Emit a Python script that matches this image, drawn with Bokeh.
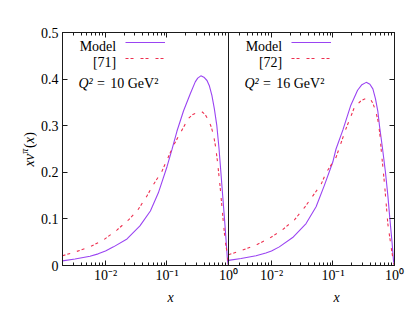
import math
from bokeh.plotting import figure
from bokeh.layouts import row, column
from bokeh.models import (Range1d, LogScale, LogAxis, LinearAxis, FixedTicker,
                          Label, Legend, LegendItem, Span, CustomJSTickFormatter)
from bokeh.core.properties import value
from bokeh.embed import file_html
from bokeh.resources import INLINE

# ---------------- data ----------------
X_MIN, X_MAX = 0.002, 1.0
Y_MIN, Y_MAX = 0.0, 0.5
y_ticks = [0.0, 0.1, 0.2, 0.3, 0.4, 0.5]
y_tick_labels = ["0", "0.1", "0.2", "0.3", "0.4", "0.5"]
x_major = [0.01, 0.1, 1.0]
x_tick_labels = ["10⁻²", "10⁻¹", "10⁰"]
x_title = "x"

# Q^2 = 10 GeV^2 panel
model10_x = [0.0020, 0.0032, 0.0056, 0.0076, 0.0100, 0.0135, 0.0224, 0.0363, 0.0537,
             0.0724, 0.100, 0.120, 0.145, 0.186, 0.240, 0.288, 0.316, 0.355, 0.398,
             0.447, 0.490, 0.537, 0.589, 0.646, 0.700, 0.752, 0.804, 0.861, 0.912,
             0.964, 1.0]
model10_y = [0.010, 0.014, 0.020, 0.025, 0.031, 0.040, 0.057, 0.085, 0.117,
             0.156, 0.212, 0.248, 0.288, 0.332, 0.369, 0.394, 0.402, 0.407, 0.404,
             0.397, 0.385, 0.365, 0.336, 0.300, 0.252, 0.200, 0.150, 0.100, 0.055,
             0.010, 0.0]
ref71_x = [0.0020, 0.0032, 0.0056, 0.0093, 0.0153, 0.0237, 0.0331, 0.0471, 0.0603,
           0.0826, 0.106, 0.128, 0.164, 0.224, 0.263, 0.306, 0.369, 0.417, 0.473,
           0.525, 0.570, 0.617, 0.662, 0.733, 0.811, 0.883, 0.964, 1.0]
ref71_y = [0.021, 0.029, 0.040, 0.055, 0.076, 0.098, 0.118, 0.149, 0.174,
           0.202, 0.234, 0.258, 0.284, 0.316, 0.324, 0.328, 0.330, 0.324, 0.312,
           0.297, 0.280, 0.255, 0.223, 0.167, 0.103, 0.053, 0.021, 0.0]

# Q^2 = 16 GeV^2 panel
model16_x = [0.0020, 0.0032, 0.0056, 0.0081, 0.0100, 0.0134, 0.0221, 0.0365, 0.0531,
             0.0724, 0.0993, 0.112, 0.145, 0.195, 0.251, 0.295, 0.347, 0.398, 0.445,
             0.490, 0.537, 0.570, 0.640, 0.713, 0.780, 0.841, 0.912, 0.964, 1.0]
model16_y = [0.011, 0.015, 0.021, 0.027, 0.031, 0.040, 0.060, 0.090, 0.126,
             0.172, 0.222, 0.250, 0.291, 0.344, 0.376, 0.388, 0.393, 0.389, 0.379,
             0.358, 0.330, 0.300, 0.250, 0.200, 0.150, 0.100, 0.050, 0.010, 0.0]
ref72_x = [0.0020, 0.0032, 0.0056, 0.0092, 0.0152, 0.0236, 0.0343, 0.0498, 0.0640,
           0.0773, 0.112, 0.163, 0.224, 0.288, 0.369, 0.407, 0.445, 0.490, 0.537,
           0.575, 0.608, 0.689, 0.780, 0.883, 0.964, 1.0]
ref72_y = [0.023, 0.032, 0.044, 0.058, 0.077, 0.098, 0.124, 0.154, 0.174,
           0.199, 0.232, 0.294, 0.340, 0.354, 0.360, 0.357, 0.348, 0.333, 0.312,
           0.285, 0.248, 0.174, 0.089, 0.039, 0.007, 0.0]

panels = [
    dict(model_x=model10_x, model_y=model10_y, ref_x=ref71_x, ref_y=ref71_y,
         model_label="Model", ref_label="[71]", q2="10"),
    dict(model_x=model16_x, model_y=model16_y, ref_x=ref72_x, ref_y=ref72_y,
         model_label="Model", ref_label="[72]", q2="16"),
]

# ---------------- styling ----------------
FONT = "Liberation Serif, Times New Roman, serif"
TICK_FS = "14px"
FS = "14px"
MODEL_COLOR = "#9a44f2"
REF_COLOR = "#ee3050"
AX_COLOR = "#1a1a1a"
FRAME_W, FRAME_H = 332, 233
PANEL_W = FRAME_W / 2
YLAB_W = 37          # strip holding the y title
BORDER_L, BORDER_R, BORDER_T, BORDER_B = 25, 12, 32, 22
XLAB_H = 20          # strip holding the x titles
MAIN_W = BORDER_L + FRAME_W + BORDER_R
MAIN_H = BORDER_T + FRAME_H + BORDER_B

span = X_MAX / X_MIN  # one panel spans this factor in x

p = figure(x_axis_type="log",
           x_range=Range1d(X_MIN, X_MAX * span),
           y_range=Range1d(Y_MIN, Y_MAX),
           frame_width=FRAME_W, frame_height=FRAME_H,
           min_border_left=BORDER_L, min_border_right=BORDER_R,
           min_border_top=BORDER_T, min_border_bottom=BORDER_B,
           output_backend="svg", toolbar_location=None,
           background_fill_color="white", border_fill_color="white")
p.extra_x_ranges = {"right": Range1d(X_MIN / span, X_MAX)}
p.extra_x_scales = {"right": LogScale()}
p.xgrid.visible = False
p.ygrid.visible = False
p.outline_line_color = AX_COLOR
p.outline_line_width = 1

factors = [1.0, span]
major = [t * f for f in factors for t in x_major]
major_labels = [lab for f in factors for lab in x_tick_labels]
minor = [k * 10.0 ** e * f for f in factors for e in (-3, -2, -1)
         for k in range(2, 10) if k * 10.0 ** e >= X_MIN]


def style_axis(ax, standoff=2):
    ax.major_tick_in = 5
    ax.major_tick_out = 0
    ax.minor_tick_in = 3
    ax.minor_tick_out = 0
    ax.axis_line_color = AX_COLOR
    ax.major_tick_line_color = AX_COLOR
    ax.minor_tick_line_color = AX_COLOR
    ax.major_label_text_font = FONT
    ax.major_label_text_color = "black"
    ax.major_label_standoff = standoff
    ax.major_label_text_font_size = TICK_FS


blank = CustomJSTickFormatter(code="return '';")
xfmt = CustomJSTickFormatter(args=dict(majors=major, labels=major_labels), code="""
const i = majors.findIndex((m) => Math.abs(m - tick) <= 1e-9 * m);
return i >= 0 ? labels[i] : '';
""")

xb = p.xaxis[0]
xb.ticker = FixedTicker(ticks=major, minor_ticks=minor)
xb.formatter = xfmt
style_axis(xb, 2)

xt = LogAxis(ticker=FixedTicker(ticks=major, minor_ticks=minor), formatter=blank)
style_axis(xt, 0)
p.add_layout(xt, "above")

yl = p.yaxis[0]
yl.ticker = FixedTicker(ticks=y_ticks, minor_ticks=[])
yl.major_label_overrides = {f"{t:g}": lab for t, lab in zip(y_ticks, y_tick_labels)}
style_axis(yl, 4)

yr = LinearAxis(ticker=FixedTicker(ticks=y_ticks, minor_ticks=[]), formatter=blank)
style_axis(yr, 0)
p.add_layout(yr, "right")

# boundary between the two panels
p.add_layout(Span(location=X_MAX, dimension="height", line_color=AX_COLOR, line_width=1))


def text(fig, t, x, y, size=FS, style="normal", align="left", angle=0.0):
    fig.add_layout(Label(x=x, y=y, x_units="screen", y_units="screen", text=t,
                         text_font=FONT, text_font_size=size, text_font_style=style,
                         text_align=align, text_baseline="alphabetic", angle=angle,
                         text_color="black"))


def strip(w, h):
    f = figure(width=w, height=h, x_range=Range1d(0, 1), y_range=Range1d(0, 1),
               min_border=0, x_axis_location=None, y_axis_location=None,
               output_backend="svg", toolbar_location=None, outline_line_color=None,
               background_fill_color="white", border_fill_color="white")
    f.xgrid.visible = False
    f.ygrid.visible = False
    return f


xlab = strip(MAIN_W, XLAB_H)
ylab = strip(YLAB_W, MAIN_H + XLAB_H)

for i, pn in enumerate(panels):
    rng = "default" if i == 0 else "right"
    dx = i * PANEL_W
    r_model = p.line(pn["model_x"], pn["model_y"], x_range_name=rng,
                     line_color=MODEL_COLOR, line_width=1.1)
    r_ref = p.line(pn["ref_x"], pn["ref_y"], x_range_name=rng,
                   line_color=REF_COLOR, line_width=1.1, line_dash="3 2 3 7")
    leg = Legend(items=[LegendItem(label=value(" "), renderers=[r_model]),
                        LegendItem(label=value(" "), renderers=[r_ref])],
                 location=(62.7 + dx, 198.7), glyph_width=40, glyph_height=16,
                 label_height=16, label_width=1, label_standoff=0, spacing=0,
                 padding=0, margin=0, border_line_alpha=0, background_fill_alpha=0,
                 label_text_font_size="8px")
    p.add_layout(leg)
    text(p, pn["model_label"], 53.7 + dx, 219.3, align="right")
    text(p, pn["ref_label"], 53.7 + dx, 203.3, align="right")
    text(p, "Q²", 16 + dx, 182.5, style="italic")
    text(p, "=", 34.4 + dx, 182.5)
    text(p, pn["q2"] + " GeV²", 47.7 + dx, 182.5)
    text(xlab, x_title, BORDER_L + PANEL_W / 2 + dx, 10, style="italic", align="center")

# y-axis title  x v^pi (x), rotated, in the left strip (one glyph per label)
ang = math.pi / 2
bx, by = 29.0, 141.0
text(ylab, "x", bx, by, style="italic", angle=ang)
text(ylab, "v", bx, by + 6.2, style="italic", angle=ang)
text(ylab, "π", bx - 5.5, by + 12.8, size="10px", style="italic", angle=ang)
text(ylab, "(", bx, by + 18.6, angle=ang)
text(ylab, "x", bx, by + 23.3, style="italic", angle=ang)
text(ylab, ")", bx, by + 29.8, angle=ang)

layout = row(ylab, column(p, xlab))
open("out.html", "w").write(file_html(layout, INLINE))
